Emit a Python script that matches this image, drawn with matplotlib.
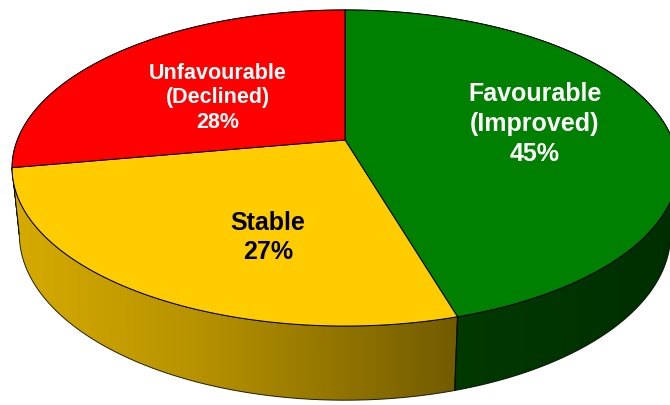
import numpy as np
import matplotlib.pyplot as plt
from matplotlib.colors import to_rgb
from matplotlib.patches import Polygon

# slice data, clockwise from 12 o'clock
labels = ['Favourable\n(Improved)', 'Stable', 'Unfavourable\n(Declined)']
values = [45.4, 26.8, 27.8]
top_colors = ['#008000', '#FFCC00', '#FF0000']
text_colors = ['white', 'black', 'white']
font_sizes = [18, 18, 15.5]
line_gaps = [1.3, 1.26, 1.24]

# perspective settings (camera distance, tilt, pie thickness)
D = 4.99
PHI = np.radians(27.85)
H = 0.23
SCALE = 1635


def project(theta, r=1.0, z=0.0):
    X = r * np.sin(theta)
    Y = r * np.cos(theta)
    depth = D + Y * np.cos(PHI) - z * np.sin(PHI)
    xs = SCALE * X / depth
    ys = SCALE * (Y * np.sin(PHI) + z * np.cos(PHI)) / depth
    return xs, ys


def shade(xs):
    return np.interp(xs, [-335, -150, 110, 330], [0.84, 0.72, 0.45, 0.36])


fig = plt.figure(figsize=(6.7, 4.05), dpi=100)
ax = fig.add_axes([0, 0, 1, 1])
x0, x1, y0, y1 = -345, 325, -265, 140
ax.set_xlim(x0, x1)
ax.set_ylim(y0, y1)
ax.axis('off')

total = sum(values)
bounds = np.concatenate([[0], np.cumsum(values)]) / total * 2 * np.pi

# silhouette tangent angles: walls between them face the viewer
tan_a = np.arccos(-np.cos(PHI) / D)
tan_b = 2 * np.pi - tan_a

gx = np.linspace(x0, x1, 670)
fac = shade(gx)

walls = []
for i, (t0, t1) in enumerate(zip(bounds[:-1], bounds[1:])):
    cuts = sorted(set([t0, t1] + [c for c in (tan_a, tan_b) if t0 < c < t1]))
    for a, b in zip(cuts[:-1], cuts[1:]):
        front = tan_a <= (a + b) / 2 <= tan_b
        walls.append((front, i, a, b))

for front, i, a, b in sorted(walls, key=lambda w: w[0]):
    t = np.linspace(a, b, 200)
    xt, yt = project(t, 1, 0)
    xb, yb = project(t[::-1], 1, -H)
    pts = np.column_stack([np.concatenate([xt, xb]), np.concatenate([yt, yb])])
    z = 2 if front else 1
    poly = Polygon(pts, closed=True, facecolor='none', edgecolor='none', zorder=z)
    ax.add_patch(poly)
    base = np.array(to_rgb(top_colors[i]))
    img = np.clip(fac[None, :, None] * base[None, None, :], 0, 1)
    img = np.repeat(img, 2, axis=0)
    im = ax.imshow(img, extent=[x0, x1, y0, y1], aspect='auto', zorder=z,
                   interpolation='bilinear')
    im.set_clip_path(poly)
    ax.add_patch(Polygon(pts, closed=True, facecolor='none', edgecolor='black',
                         lw=0.7, alpha=0.85, zorder=z + 0.1))

# top face
for i, (t0, t1) in enumerate(zip(bounds[:-1], bounds[1:])):
    t = np.linspace(t0, t1, 300)
    xt, yt = project(t, 1, 0)
    pts = np.column_stack([np.concatenate([[0], xt]), np.concatenate([[0], yt])])
    ax.add_patch(Polygon(pts, closed=True, facecolor=top_colors[i], edgecolor='black',
                         lw=0.7, joinstyle='round', zorder=3))

# labels (angle, radius on the top face)
label_theta = np.radians([79.8, 200.35, 305.3])
label_r = [0.60, 0.608, 0.50]
for i, lab in enumerate(labels):
    lx, ly = project(label_theta[i], label_r[i], 0)
    ax.text(lx, ly, f'{lab}\n{values[i]:.0f}%', ha='center', va='center',
            color=text_colors[i], fontsize=font_sizes[i], fontweight='bold',
            family='Liberation Sans', linespacing=line_gaps[i], zorder=5)

fig.savefig('out.png', dpi=100)
